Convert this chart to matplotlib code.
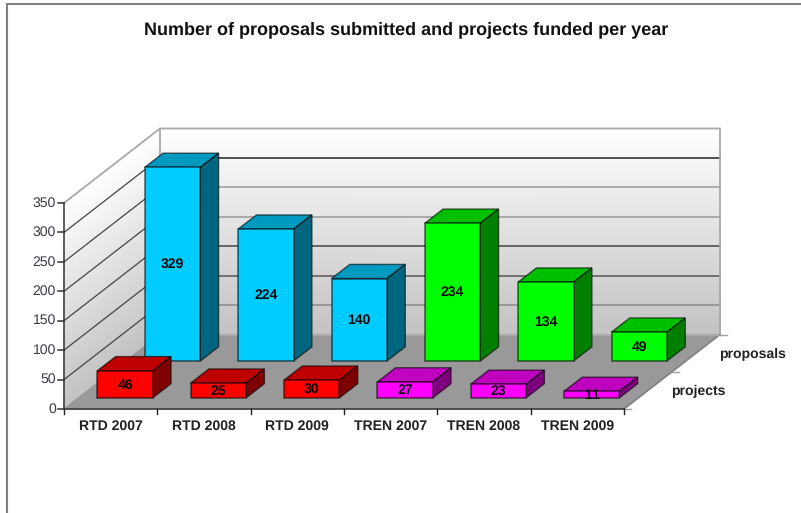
import numpy as np
import matplotlib
matplotlib.use("Agg")
import matplotlib.pyplot as plt
from matplotlib.patches import Polygon, Rectangle

plt.rcParams['font.family'] = ['Liberation Sans', 'DejaVu Sans']
plt.rcParams['text.hinting'] = 'none'
plt.rcParams['text.hinting_factor'] = 1

# Data
categories = ['RTD 2007', 'RTD 2008', 'RTD 2009', 'TREN 2007', 'TREN 2008', 'TREN 2009']
proposals = [329, 224, 140, 234, 134, 49]
projects = [46, 25, 30, 27, 23, 11]
series_names = ['projects', 'proposals']
y_ticks = [0, 50, 100, 150, 200, 250, 300, 350]

W, H = 801, 513

# Pixel position of the chart's front axes
X0_PX, X1_PX = 64, 624
Y0_PX, Y350_PX = 409, 203
PX_PER_CAT = (X1_PX - X0_PX) / len(categories)
PX_PER_VAL = (Y0_PX - Y350_PX) / 350

# Full depth of the floor, in data units
DX = 96 / PX_PER_CAT
DY = 74.5 / PX_PER_VAL

BAR_W = 55.5 / PX_PER_CAT
BAR_DEPTH = 0.19

BLUE = ('#00ccff', '#0099bf', '#00667f')
GREEN = ('#00ff00', '#00bf00', '#007f00')
RED = ('#ff0000', '#bf0000', '#7f0000')
MAGENTA = ('#ff00ff', '#bf00bf', '#7f007f')

fig = plt.figure(figsize=(W / 100, H / 100), dpi=100, facecolor='white')
ax = fig.add_axes([0, 0, 1, 1])
ax.axis('off')
# axes span the whole figure, limits chosen so that data units land on the pixels above
ax.set_xlim(-X0_PX / PX_PER_CAT, (W - X0_PX) / PX_PER_CAT)
ax.set_ylim((Y0_PX - H) / PX_PER_VAL, Y0_PX / PX_PER_VAL)


def proj(x, v, d=0.0):
    return x + d * DX, v + d * DY


def gradient_wall(xa, xb, da, db):
    # vertical white to grey fade, sheared along the depth direction
    ds = np.array([da, db], dtype=float)
    px, py = [], []
    for v in (0, 350):
        qx, qy = proj(np.array([xa, xb], dtype=float), v, ds)
        px.append(qx)
        py.append(qy)
    shade = np.array([[0.76, 0.76], [1.0, 1.0]])
    ax.pcolormesh(np.array(px), np.array(py), shade, shading='gouraud',
                  cmap='gray', vmin=0, vmax=1, zorder=1)


n = len(categories)

# Walls and floor
gradient_wall(0, n, 1, 1)
gradient_wall(0, 0, 0, 1)
floor = [proj(0, 0, 0), proj(n, 0, 0), proj(n, 0, 1), proj(0, 0, 1)]
ax.add_patch(Polygon(floor, closed=True, fc='#999999', ec='none', zorder=2))

# Grid lines on both walls
back_shades = ['#8a8a8a', '#555555', '#444444', '#999999', '#999999', '#222222']
for v, shade in zip(y_ticks[1:-1], back_shades):
    xa, ya = proj(0, v, 0)
    xb, yb = proj(0, v, 1)
    xc, yc = proj(n, v, 1)
    ax.plot([xa, xb], [ya, yb], color='#444444', lw=0.9, zorder=3)
    ax.plot([xb, xc], [yb, yc], color=shade, lw=1.1, zorder=3)

# Wall outlines
top_pts = [proj(0, 350, 0), proj(0, 350, 1), proj(n, 350, 1), proj(n, 0, 1)]
ax.plot(*zip(*top_pts), color='#a8a8a8', lw=1.3, zorder=3)
ax.plot(*zip(proj(0, 350, 1), proj(0, 0, 1)), color='#a8a8a8', lw=1.3, zorder=3)
ax.plot(*zip(proj(n, 0, 0), proj(n, 0, 1)), color='#808080', lw=1.2, zorder=3)
ax.plot(*zip(proj(0, 0, 1), proj(n, 0, 1)), color='#a8a8a8', lw=1.0, zorder=3)
ax.plot(*zip(proj(0, 0, 0), proj(0, 0, 1)), color='#999999', lw=1.0, zorder=3)

# Value axis
tick_len = 6 / PX_PER_CAT
ax.plot(*zip(proj(0, 0), proj(0, 350)), color='#333333', lw=1.1, zorder=6)
for v in y_ticks:
    ax.plot([-tick_len, 0], [v, v], color='#333333', lw=1.1, zorder=6)
    ax.text(-tick_len - 2 / PX_PER_CAT, v, str(v), ha='right', va='center',
            fontsize=10, color='#3a3a4a')

# Category axis
ax.plot([0, n], [0, 0], color='#444444', lw=1.3, zorder=6)
for k in range(n + 1):
    ax.plot([k, k], [0, -5 / PX_PER_VAL], color='#222222', lw=1.0, zorder=6)
for k, name in enumerate(categories):
    ax.text(k + 0.5, -17 / PX_PER_VAL, name, ha='center', va='center',
            fontsize=9.9, fontweight='bold', color='#222222')

# Depth axis ticks and labels
for d in (0, 0.5, 1):
    xa, ya = proj(n, 0, d)
    ax.plot([xa, xa + 7 / PX_PER_CAT], [ya, ya], color='#a0a0a0', lw=1.0, zorder=3)
for d, name in zip((0.25, 0.75), series_names):
    xa, ya = proj(n, 0, d)
    ax.text(xa + 23 / PX_PER_CAT, ya - 1 / PX_PER_VAL, name, ha='left', va='center',
            fontsize=10.2, fontweight='bold', color='#222222')


def draw_bar(k, value, d0, colors, z):
    left = k + (1 - BAR_W) / 2
    right = left + BAR_W
    d1 = d0 + BAR_DEPTH
    ec = '#00000099'
    top = [proj(left, value, d0), proj(right, value, d0), proj(right, value, d1), proj(left, value, d1)]
    side = [proj(right, 0, d0), proj(right, 0, d1), proj(right, value, d1), proj(right, value, d0)]
    front = [proj(left, 0, d0), proj(right, 0, d0), proj(right, value, d0), proj(left, value, d0)]
    ax.add_patch(Polygon(top, closed=True, fc=colors[1], ec=ec, lw=1.0, zorder=z))
    ax.add_patch(Polygon(side, closed=True, fc=colors[2], ec=ec, lw=1.0, zorder=z))
    ax.add_patch(Polygon(front, closed=True, fc=colors[0], ec=ec, lw=1.1, zorder=z))
    cx, cy = proj((left + right) / 2, value / 2, d0)
    ax.text(cx, cy - 0.5 / PX_PER_VAL, str(value), ha='center', va='center', fontsize=9.8,
            fontweight='bold', color='#0a0a0a', zorder=z + 0.5)


# Back row first, then the front row over it
for k, value in enumerate(proposals):
    draw_bar(k, value, 0.645, BLUE if k < 3 else GREEN, 10 + k)
for k, value in enumerate(projects):
    draw_bar(k, value, 0.15, RED if k < 3 else MAGENTA, 20 + k)

# Title and outer frame
ax.text(-X0_PX / PX_PER_CAT + 406.5 / PX_PER_CAT, (Y0_PX - 30) / PX_PER_VAL,
        'Number of proposals submitted and projects funded per year',
        ha='center', va='center', fontsize=12.7, fontweight='bold', color='#111111')
fig.add_artist(Rectangle((7 / W, -0.1), 1, 1.1 - 4 / H, transform=fig.transFigure,
                         fc='none', ec='#808080', lw=1.5))

fig.savefig('out.png', dpi=100)
